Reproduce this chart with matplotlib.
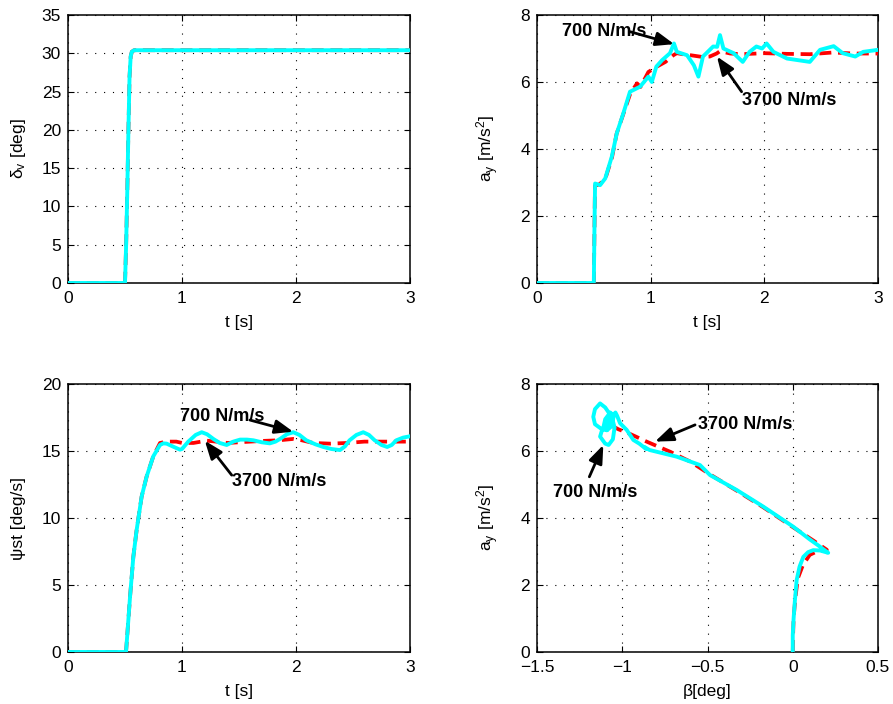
import matplotlib
matplotlib.use("Agg")
import matplotlib.pyplot as plt

plt.rcParams['font.family'] = ['Liberation Sans', 'DejaVu Sans']
plt.rcParams['mathtext.default'] = 'regular'
plt.rcParams['axes.unicode_minus'] = True

# ---------------- data ----------------
# steering angle delta_v vs t
t_delta = [0, 0.5, 0.51, 0.52, 0.53, 0.54, 0.55, 0.56, 0.58, 3.0]
delta_700 = [0, 0, 5, 12, 20, 27, 29.6, 30.2, 30.4, 30.4]
delta_3700 = [0, 0, 5, 12, 20, 27, 29.6, 30.2, 30.4, 30.4]

# lateral acceleration a_y vs t
t_ay_3700 = [0, 0.5, 0.51, 0.55, 0.6, 0.66, 0.7, 0.76, 0.82, 0.88, 0.91, 0.98, 1.05,
             1.13, 1.2, 1.23, 1.3, 1.35, 1.45, 1.52, 1.58, 1.61, 1.7, 1.8, 2.0, 2.2,
             2.4, 2.6, 2.8, 3.0]
ay_3700 = [0, 0, 2.9, 2.95, 3.1, 3.75, 4.45, 5.05, 5.65, 5.96, 5.85, 6.3, 6.45,
           6.6, 6.8, 6.86, 6.82, 6.8, 6.75, 6.76, 6.85, 6.92, 6.85, 6.83, 6.86, 6.84,
           6.83, 6.88, 6.85, 6.85]
t_ay_700 = [0, 0.5, 0.505, 0.511, 0.555, 0.6, 0.658, 0.702, 0.76, 0.818, 0.907, 0.98,
            1.01, 1.05, 1.1, 1.17, 1.205, 1.23, 1.32, 1.38, 1.42, 1.46, 1.55, 1.585,
            1.61, 1.64, 1.73, 1.81, 1.87, 1.93, 1.98, 2.02, 2.08, 2.2, 2.3, 2.4, 2.49,
            2.61, 2.69, 2.8, 2.87, 3.0]
ay_700 = [0, 0, 1.5, 2.97, 2.92, 3.12, 3.77, 4.47, 5.07, 5.71, 5.86, 6.16,
          6.0, 6.46, 6.65, 6.86, 7.15, 6.9, 6.8, 6.5, 6.16, 6.76, 7.06, 7.05,
          7.4, 7.0, 6.86, 6.6, 6.9, 7.06, 7.0, 7.15, 6.9, 6.7, 6.65, 6.6, 6.96,
          7.07, 6.86, 6.76, 6.9, 6.96]

# yaw rate psi_dot vs t
t_psi_3700 = [0, 0.509, 0.544, 0.573, 0.602, 0.646, 0.69, 0.748, 0.807, 0.865, 0.95,
              1.0, 1.1, 1.216, 1.3, 1.4, 1.5, 1.6, 1.7, 1.85, 1.976, 2.05, 2.15, 2.3,
              2.45, 2.6, 2.75, 2.9, 3.0]
psi_3700 = [0, 0, 4.1, 7.1, 9.1, 11.6, 13.1, 14.6, 15.6, 15.7, 15.7,
            15.6, 15.6, 15.77, 15.7, 15.6, 15.65, 15.7, 15.75, 15.8, 15.9, 15.8, 15.6, 15.55,
            15.6, 15.7, 15.7, 15.7, 15.7]
t_psi_700 = [0, 0.509, 0.544, 0.573, 0.602, 0.646, 0.69, 0.748, 0.807, 0.836, 0.865,
             0.924, 0.982, 1.0, 1.055, 1.12, 1.173, 1.22, 1.275, 1.33, 1.392, 1.45, 1.51,
             1.57, 1.626, 1.7, 1.77, 1.82, 1.86, 1.92, 1.976, 2.03, 2.09, 2.17, 2.24,
             2.31, 2.386, 2.43, 2.47, 2.53, 2.59, 2.64, 2.69, 2.75, 2.8, 2.84, 2.88,
             2.94, 3.0]
psi_700 = [0, 0, 4.1, 7.1, 9.1, 11.6, 13.1, 14.6, 15.45, 15.57, 15.55,
           15.32, 15.1, 15.15, 15.7, 16.2, 16.4, 16.25, 15.9, 15.6, 15.45, 15.7, 15.85,
           15.85, 15.8, 15.65, 15.57, 15.7, 15.9, 16.25, 16.4, 16.2, 15.8, 15.5, 15.3,
           15.15, 15.07, 15.35, 15.8, 16.2, 16.4, 16.2, 15.8, 15.45, 15.3, 15.45, 15.8,
           16.0, 16.1]

# a_y vs sideslip beta (phase plot)
beta_3700 = [0, 0.002, 0.005, 0.015, 0.03, 0.06, 0.1, 0.15, 0.2, 0.12, 0.003, -0.173,
             -0.33, -0.485, -0.6, -0.72, -0.857, -0.95, -1.023, -1.06, -1.07, -1.06,
             -1.05]
aybeta_3700 = [0, 0.5, 1.0, 1.6, 2.2, 2.6, 2.9, 3.02, 3.05, 3.33, 3.72, 4.32,
               4.82, 5.3, 5.68, 5.98, 6.28, 6.5, 6.65, 6.75, 6.85, 6.9,
               6.85]
beta_700 = [0, 0.0, 0.005, 0.012, 0.023, 0.04, 0.062, 0.09, 0.12, 0.16, 0.208, 0.15,
            0.10, 0.003, -0.173, -0.33, -0.485, -0.544, -0.68, -0.84, -0.87, -0.86,
            -0.90, -0.935, -0.974, -1.013, -1.03, -1.04, -1.07, -1.12, -1.13, -1.10,
            -1.08, -1.055, -1.045, -1.06, -1.10, -1.13, -1.16, -1.17, -1.16, -1.12,
            -1.09, -1.07, -1.06, -1.07, -1.10, -1.11, -1.09, -1.06, -1.05, -1.08,
            -1.10, -1.08, -1.07, -1.08]
aybeta_700 = [0, 0.5, 1.0, 1.5, 2.15, 2.55, 2.84, 2.98, 3.04, 3.03, 2.96, 3.18,
              3.36, 3.74, 4.34, 4.84, 5.28, 5.58, 5.83, 6.03, 6.12, 6.06,
              6.22, 6.33, 6.63, 6.83, 7.05, 7.15, 6.95, 6.6, 6.43, 6.22,
              6.18, 6.35, 6.7, 7.0, 7.3, 7.42, 7.25, 7.02, 6.8, 6.65,
              6.62, 6.8, 7.1, 7.15, 6.95, 6.72, 6.62, 6.75, 7.05, 7.0,
              6.8, 6.76, 6.9, 6.96]

# ticks
t_ticks = [0, 1, 2, 3]
delta_ticks = [0, 5, 10, 15, 20, 25, 30, 35]
ay_ticks = [0, 2, 4, 6, 8]
psi_ticks = [0, 5, 10, 15, 20]
beta_ticks = [-1.5, -1, -0.5, 0, 0.5]
beta_ticklabels = ['\u22121.5', '\u22121', '\u22120.5', '0', '0.5']

# ---------------- figure ----------------
W, H = 893, 704
fig = plt.figure(figsize=(W / 100, H / 100), dpi=100)


def make_ax(l, t, r, b):
    return fig.add_axes([l / W, 1 - b / H, (r - l) / W, (b - t) / H])


ax1 = make_ax(68, 15, 410, 283)
ax2 = make_ax(537, 15, 878, 283)
ax3 = make_ax(68, 384, 410, 652)
ax4 = make_ax(537, 384, 878, 652)

red_kw = dict(color=(1, 0, 0), lw=2.7, linestyle=(0, (3.2, 1.8)), zorder=3)
cyan_kw = dict(color=(0, 1, 1), lw=2.8, solid_joinstyle='round', zorder=4)

ax1.plot(t_delta, delta_3700, **red_kw)
ax1.plot(t_delta, delta_700, **cyan_kw)
ax2.plot(t_ay_3700, ay_3700, **red_kw)
ax2.plot(t_ay_700, ay_700, **cyan_kw)
ax3.plot(t_psi_3700, psi_3700, **red_kw)
ax3.plot(t_psi_700, psi_700, **cyan_kw)
ax4.plot(beta_3700, aybeta_3700, **red_kw)
ax4.plot(beta_700, aybeta_700, **cyan_kw)


def style(ax, xt, yt, xlim, ylim, xl=None):
    ax.set_xlim(*xlim)
    ax.set_ylim(*ylim)
    ax.set_xticks(xt)
    if xl is not None:
        ax.set_xticklabels(xl)
    else:
        ax.set_xticklabels([('%g' % v) for v in xt])
    ax.set_yticks(yt)
    ax.set_yticklabels([('%g' % v) for v in yt])
    ax.tick_params(direction='in', top=True, right=True, length=4, width=0.8,
                   labelsize=12.5)
    ax.tick_params(axis='x', pad=6)
    ax.tick_params(axis='y', pad=5)
    ax.grid(True, color='black', linestyle=(0, (1, 7)), linewidth=0.8)
    for s in ax.spines.values():
        s.set_linewidth(1.1)


style(ax1, t_ticks, delta_ticks, (0, 3), (0, 35))
style(ax2, t_ticks, ay_ticks, (0, 3), (0, 8))
style(ax3, t_ticks, psi_ticks, (0, 3), (0, 20))
style(ax4, beta_ticks, ay_ticks, (-1.5, 0.5), (0, 8), beta_ticklabels)

lab = dict(fontsize=12.5)
ax1.set_xlabel('t [s]', **lab)
ax2.set_xlabel('t [s]', **lab)
ax3.set_xlabel('t [s]', **lab)
ax4.set_xlabel('\u03b2[deg]', **lab)
ax1.set_ylabel('\u03b4$_{v}$ [deg]', va='center', **lab)
ax2.set_ylabel('a$_{y}$ [m/s$^{2}$]', va='center', **lab)
ax3.set_ylabel('\u03c8st [deg/s]', va='center', **lab)
ax4.set_ylabel('a$_{y}$ [m/s$^{2}$]', va='center', **lab)
for ax in (ax1, ax2, ax3, ax4):
    ax.xaxis.labelpad = 6
    ax.yaxis.set_label_coords(-49.0 / 342, 0.5)

arrow_kw = dict(arrowstyle='-|>,head_length=1.1,head_width=0.42', color='black',
                lw=2.0, mutation_scale=10, shrinkA=0, shrinkB=0)
txt_kw = dict(fontsize=13, fontweight='bold', ha='left', va='center', zorder=6)


def note(ax, text, tpos, tail, head):
    ax.text(tpos[0], tpos[1], text, **txt_kw)
    ax.annotate('', xy=head, xytext=tail, arrowprops=arrow_kw, zorder=7)


note(ax2, '700 N/m/s', (0.22, 7.5), (0.82, 7.5), (1.207, 7.13))
note(ax2, '3700 N/m/s', (1.80, 5.45), (1.80, 5.71), (1.583, 6.76))
note(ax3, '700 N/m/s', (0.982, 17.56), (1.596, 17.31), (1.976, 16.44))
note(ax3, '3700 N/m/s', (1.436, 12.76), (1.436, 13.2), (1.20, 15.77))
note(ax4, '3700 N/m/s', (-0.556, 6.78), (-0.573, 6.78), (-0.808, 6.28))
note(ax4, '700 N/m/s', (-1.408, 4.75), (-1.193, 5.23), (-1.111, 6.18))

fig.savefig('out.png', dpi=100)
